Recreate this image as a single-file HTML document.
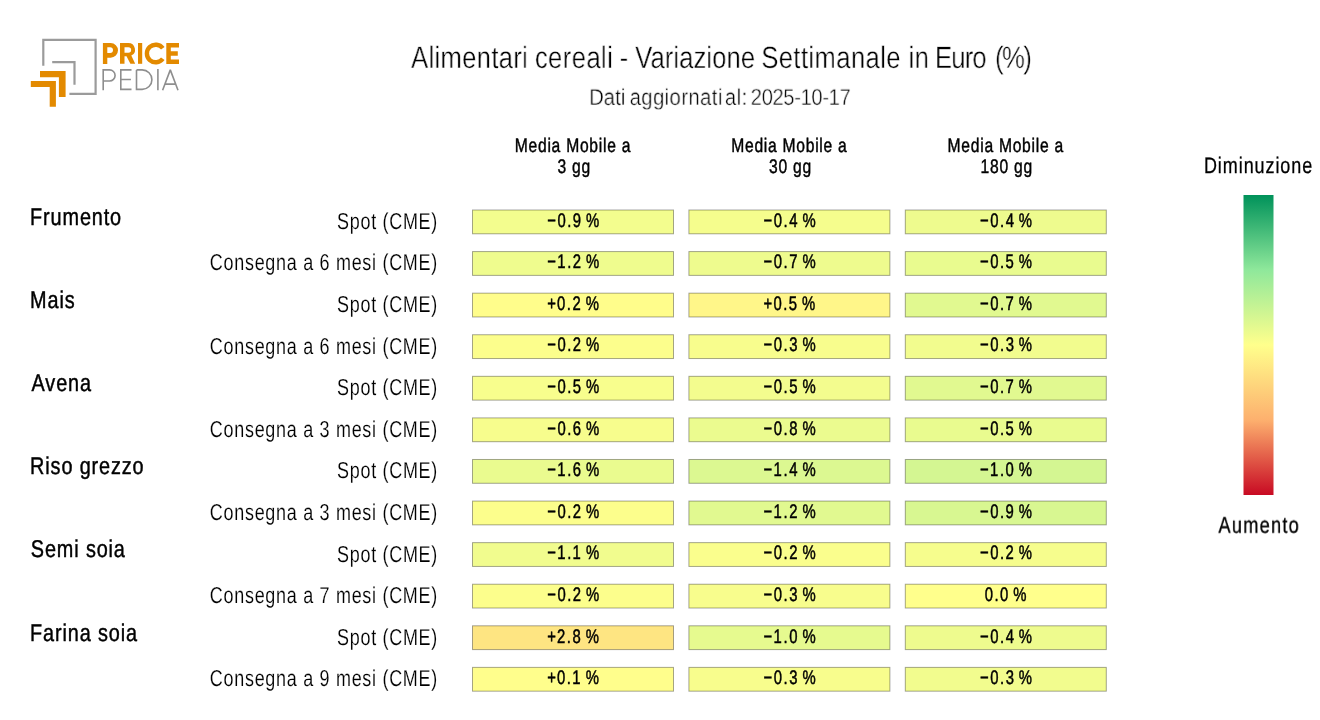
<!DOCTYPE html>
<html><head><meta charset="utf-8"><style>
html,body{margin:0;padding:0;background:#fff;width:1320px;height:720px;overflow:hidden}
svg{display:block;will-change:transform}
text{font-family:"Liberation Sans",sans-serif;white-space:pre;text-rendering:geometricPrecision}
</style></head><body>
<svg width="1320" height="720" viewBox="0 0 1320 720">
<defs><linearGradient id="cb" x1="0" y1="0" x2="0" y2="1"><stop offset="0.0" stop-color="rgb(0, 146, 90)"/><stop offset="0.25" stop-color="rgb(143, 232, 155)"/><stop offset="0.5" stop-color="rgb(255, 255, 140)"/><stop offset="0.75" stop-color="rgb(253, 176, 110)"/><stop offset="1.0" stop-color="rgb(200, 10, 35)"/></linearGradient></defs>
<rect width="1320" height="720" fill="#fff"/>

<g fill="none" stroke="#9b9b9b" stroke-width="2.2">
 <path d="M43.3 65.8 V39.8 H95.6 V93.8 H69.4"/>
 <path d="M52.2 62.1 H74.5 V84.7"/>
</g>
<g fill="#e38a00">
 <path d="M40 71.1 H65.6 V97 H58.9 V77.2 H40 Z"/>
 <path d="M30.8 80.9 H55.9 V106.7 H49.7 V87 H30.8 Z"/>
</g>
<g fill="#e38a00" fill-rule="evenodd">
 <path d="M102.9 43 H110.65 A7.35 7.35 0 0 1 110.65 57.7 H107.3 V63.9 H102.9 Z M107.3 47.2 H110.1 A2.9 2.9 0 0 1 110.1 53 H107.3 Z"/>
 <path d="M120 43 H128.35 A6.65 6.65 0 0 1 131.3 55.6 L135.2 63.8 H130.4 L126.5 56.3 H124.5 V63.8 H120 Z M124.5 47.2 H128.35 A2.8 2.8 0 0 1 128.35 52.8 H124.5 Z"/>
 <path d="M138 43 H142.2 V63.8 H138 Z"/>
 <path d="M166.3 43.1 H179 V47.6 H170.8 V51.3 H177.8 V55.8 H170.8 V59.5 H179 V63.9 H166.3 Z"/>
</g>
<path d="M162.8 48.3 A8.8 8.8 0 1 0 162.8 58.7" fill="none" stroke="#e38a00" stroke-width="4.4"/>
<g fill="none" stroke="#8e8e8e" stroke-width="1.6">
 <path d="M103.2 90.2 V69.9 H109.55 A5.55 5.55 0 0 1 109.55 81 H103.2"/>
 <path d="M131.5 69.9 H120.8 V89.4 H131.5 M120.8 79.5 H130.9"/>
 <path d="M136.5 69.9 V89.4 H142.15 A9.75 9.75 0 0 0 142.15 69.9 H136.5"/>
 <path d="M157.9 69.1 V90.2"/>
 <path d="M162.6 90.2 L170.3 69.9 L178 90.2 M164.8 84.1 H175.8" stroke-linejoin="bevel"/>
</g>

<rect x="1243.5" y="195" width="30" height="300" fill="url(#cb)"/>
<rect x="472.50" y="210.00" width="201.00" height="23.80" fill="#f3fd8e" stroke="rgba(0,0,0,0.35)" stroke-width="1"/><rect x="688.90" y="210.00" width="201.00" height="23.80" fill="#f5fd8d" stroke="rgba(0,0,0,0.35)" stroke-width="1"/><rect x="905.30" y="210.00" width="201.00" height="23.80" fill="#eefb8e" stroke="rgba(0,0,0,0.35)" stroke-width="1"/><rect x="472.50" y="251.58" width="201.00" height="23.80" fill="#effc8e" stroke="rgba(0,0,0,0.35)" stroke-width="1"/><rect x="688.90" y="251.58" width="201.00" height="23.80" fill="#eefb8e" stroke="rgba(0,0,0,0.35)" stroke-width="1"/><rect x="905.30" y="251.58" width="201.00" height="23.80" fill="#e9fb8f" stroke="rgba(0,0,0,0.35)" stroke-width="1"/><rect x="472.50" y="293.16" width="201.00" height="23.80" fill="#fffd8b" stroke="rgba(0,0,0,0.35)" stroke-width="1"/><rect x="688.90" y="293.16" width="201.00" height="23.80" fill="#fff689" stroke="rgba(0,0,0,0.35)" stroke-width="1"/><rect x="905.30" y="293.16" width="201.00" height="23.80" fill="#e1f990" stroke="rgba(0,0,0,0.35)" stroke-width="1"/><rect x="472.50" y="334.74" width="201.00" height="23.80" fill="#fcfe8c" stroke="rgba(0,0,0,0.35)" stroke-width="1"/><rect x="688.90" y="334.74" width="201.00" height="23.80" fill="#f8fd8d" stroke="rgba(0,0,0,0.35)" stroke-width="1"/><rect x="905.30" y="334.74" width="201.00" height="23.80" fill="#f2fc8e" stroke="rgba(0,0,0,0.35)" stroke-width="1"/><rect x="472.50" y="376.32" width="201.00" height="23.80" fill="#f8fe8d" stroke="rgba(0,0,0,0.35)" stroke-width="1"/><rect x="688.90" y="376.32" width="201.00" height="23.80" fill="#f3fc8e" stroke="rgba(0,0,0,0.35)" stroke-width="1"/><rect x="905.30" y="376.32" width="201.00" height="23.80" fill="#e1f990" stroke="rgba(0,0,0,0.35)" stroke-width="1"/><rect x="472.50" y="417.90" width="201.00" height="23.80" fill="#f7fd8d" stroke="rgba(0,0,0,0.35)" stroke-width="1"/><rect x="688.90" y="417.90" width="201.00" height="23.80" fill="#ebfb8f" stroke="rgba(0,0,0,0.35)" stroke-width="1"/><rect x="905.30" y="417.90" width="201.00" height="23.80" fill="#e9fb8f" stroke="rgba(0,0,0,0.35)" stroke-width="1"/><rect x="472.50" y="459.48" width="201.00" height="23.80" fill="#eafb8f" stroke="rgba(0,0,0,0.35)" stroke-width="1"/><rect x="688.90" y="459.48" width="201.00" height="23.80" fill="#dcf891" stroke="rgba(0,0,0,0.35)" stroke-width="1"/><rect x="905.30" y="459.48" width="201.00" height="23.80" fill="#d4f692" stroke="rgba(0,0,0,0.35)" stroke-width="1"/><rect x="472.50" y="501.06" width="201.00" height="23.80" fill="#fcfe8c" stroke="rgba(0,0,0,0.35)" stroke-width="1"/><rect x="688.90" y="501.06" width="201.00" height="23.80" fill="#e1f990" stroke="rgba(0,0,0,0.35)" stroke-width="1"/><rect x="905.30" y="501.06" width="201.00" height="23.80" fill="#d8f791" stroke="rgba(0,0,0,0.35)" stroke-width="1"/><rect x="472.50" y="542.64" width="201.00" height="23.80" fill="#f1fc8e" stroke="rgba(0,0,0,0.35)" stroke-width="1"/><rect x="688.90" y="542.64" width="201.00" height="23.80" fill="#fafe8d" stroke="rgba(0,0,0,0.35)" stroke-width="1"/><rect x="905.30" y="542.64" width="201.00" height="23.80" fill="#f6fd8d" stroke="rgba(0,0,0,0.35)" stroke-width="1"/><rect x="472.50" y="584.22" width="201.00" height="23.80" fill="#fcfe8c" stroke="rgba(0,0,0,0.35)" stroke-width="1"/><rect x="688.90" y="584.22" width="201.00" height="23.80" fill="#f8fd8d" stroke="rgba(0,0,0,0.35)" stroke-width="1"/><rect x="905.30" y="584.22" width="201.00" height="23.80" fill="#ffff8c" stroke="rgba(0,0,0,0.35)" stroke-width="1"/><rect x="472.50" y="625.80" width="201.00" height="23.80" fill="#fee582" stroke="rgba(0,0,0,0.35)" stroke-width="1"/><rect x="688.90" y="625.80" width="201.00" height="23.80" fill="#e6fa8f" stroke="rgba(0,0,0,0.35)" stroke-width="1"/><rect x="905.30" y="625.80" width="201.00" height="23.80" fill="#eefb8e" stroke="rgba(0,0,0,0.35)" stroke-width="1"/><rect x="472.50" y="667.38" width="201.00" height="23.80" fill="#fffe8c" stroke="rgba(0,0,0,0.35)" stroke-width="1"/><rect x="688.90" y="667.38" width="201.00" height="23.80" fill="#f8fd8d" stroke="rgba(0,0,0,0.35)" stroke-width="1"/><rect x="905.30" y="667.38" width="201.00" height="23.80" fill="#f2fc8e" stroke="rgba(0,0,0,0.35)" stroke-width="1"/>
<g style="will-change:transform">
<text transform="translate(0.00 68.00) scale(0.8300 1)" font-size="30.87" fill="#000" stroke="#fff" stroke-width="0.45"><tspan x="495.15" letter-spacing="0.402">Alimentari </tspan><tspan x="644.43" letter-spacing="0.489">cereali </tspan><tspan x="746.40" letter-spacing="0.000">- </tspan><tspan x="765.27" letter-spacing="0.099">Variazione </tspan><tspan x="917.17" letter-spacing="0.485">Settimanale </tspan><tspan x="1094.74" letter-spacing="0.417">in </tspan><tspan x="1126.45" letter-spacing="-0.999">Euro </tspan><tspan x="1198.63" letter-spacing="-1.727">(%)</tspan></text><text transform="translate(0.00 104.85) scale(0.8800 1)" font-size="23.04" fill="#000" stroke="#fff" stroke-width="0.45"><tspan x="669.41" letter-spacing="0.055">Dati </tspan><tspan x="715.44" letter-spacing="0.468">aggiornati </tspan><tspan x="823.74" letter-spacing="0.592">al: </tspan><tspan x="853.05" letter-spacing="-0.454">2025-10-17</tspan></text><text transform="translate(514.80 151.90) scale(0.8000 1)" font-size="19.57" letter-spacing="0.907" fill="#000" stroke="#000" stroke-width="0.45">Media Mobile a</text><text transform="translate(557.40 172.50) scale(0.8000 1)" font-size="19.57" letter-spacing="0.974" fill="#000" stroke="#000" stroke-width="0.45">3 gg</text><text transform="translate(731.20 151.90) scale(0.8000 1)" font-size="19.57" letter-spacing="0.907" fill="#000" stroke="#000" stroke-width="0.45">Media Mobile a</text><text transform="translate(769.03 172.50) scale(0.8000 1)" font-size="19.57" letter-spacing="0.974" fill="#000" stroke="#000" stroke-width="0.45">30 gg</text><text transform="translate(947.60 151.90) scale(0.8000 1)" font-size="19.57" letter-spacing="0.907" fill="#000" stroke="#000" stroke-width="0.45">Media Mobile a</text><text transform="translate(980.43 172.50) scale(0.8000 1)" font-size="19.57" letter-spacing="0.974" fill="#000" stroke="#000" stroke-width="0.45">180 gg</text><text transform="translate(30.11 224.80) scale(0.8200 1)" font-size="24.20" letter-spacing="1.067" fill="#000" stroke="#000" stroke-width="0.45">Frumento</text><text transform="translate(30.11 307.96) scale(0.8200 1)" font-size="24.20" letter-spacing="1.067" fill="#000" stroke="#000" stroke-width="0.45">Mais</text><text transform="translate(31.60 391.12) scale(0.8200 1)" font-size="24.20" letter-spacing="1.067" fill="#000" stroke="#000" stroke-width="0.45">Avena</text><text transform="translate(30.11 474.28) scale(0.8200 1)" font-size="24.20" letter-spacing="1.067" fill="#000" stroke="#000" stroke-width="0.45">Riso grezzo</text><text transform="translate(30.81 557.44) scale(0.8200 1)" font-size="24.20" letter-spacing="1.067" fill="#000" stroke="#000" stroke-width="0.45">Semi soia</text><text transform="translate(30.11 640.60) scale(0.8200 1)" font-size="24.20" letter-spacing="1.067" fill="#000" stroke="#000" stroke-width="0.45">Farina soia</text><text transform="translate(337.03 228.90) scale(0.7800 1)" font-size="23.04" letter-spacing="0.915" fill="#000" stroke="#fff" stroke-width="0.15">Spot (CME)</text><text transform="translate(209.85 270.48) scale(0.7800 1)" font-size="23.04" letter-spacing="0.915" fill="#000" stroke="#fff" stroke-width="0.15">Consegna a 6 mesi (CME)</text><text transform="translate(337.03 312.06) scale(0.7800 1)" font-size="23.04" letter-spacing="0.915" fill="#000" stroke="#fff" stroke-width="0.15">Spot (CME)</text><text transform="translate(209.85 353.64) scale(0.7800 1)" font-size="23.04" letter-spacing="0.915" fill="#000" stroke="#fff" stroke-width="0.15">Consegna a 6 mesi (CME)</text><text transform="translate(337.03 395.22) scale(0.7800 1)" font-size="23.04" letter-spacing="0.915" fill="#000" stroke="#fff" stroke-width="0.15">Spot (CME)</text><text transform="translate(209.85 436.80) scale(0.7800 1)" font-size="23.04" letter-spacing="0.915" fill="#000" stroke="#fff" stroke-width="0.15">Consegna a 3 mesi (CME)</text><text transform="translate(337.03 478.38) scale(0.7800 1)" font-size="23.04" letter-spacing="0.915" fill="#000" stroke="#fff" stroke-width="0.15">Spot (CME)</text><text transform="translate(209.85 519.96) scale(0.7800 1)" font-size="23.04" letter-spacing="0.915" fill="#000" stroke="#fff" stroke-width="0.15">Consegna a 3 mesi (CME)</text><text transform="translate(337.03 561.54) scale(0.7800 1)" font-size="23.04" letter-spacing="0.915" fill="#000" stroke="#fff" stroke-width="0.15">Spot (CME)</text><text transform="translate(209.85 603.12) scale(0.7800 1)" font-size="23.04" letter-spacing="0.915" fill="#000" stroke="#fff" stroke-width="0.15">Consegna a 7 mesi (CME)</text><text transform="translate(337.03 644.70) scale(0.7800 1)" font-size="23.04" letter-spacing="0.915" fill="#000" stroke="#fff" stroke-width="0.15">Spot (CME)</text><text transform="translate(209.85 686.28) scale(0.7800 1)" font-size="23.04" letter-spacing="0.915" fill="#000" stroke="#fff" stroke-width="0.15">Consegna a 9 mesi (CME)</text><text transform="translate(1203.96 172.90) scale(0.8000 1)" font-size="22.46" letter-spacing="1.177" fill="#000" stroke="#000" stroke-width="0.3">Diminuzione</text><text transform="translate(1218.41 532.70) scale(0.8000 1)" font-size="22.75" letter-spacing="1.564" fill="#000" stroke="#000" stroke-width="0.3">Aumento</text><text transform="translate(0.00 226.70) scale(0.7600 1)" x="720.00 733.40 746.32 753.72 765.57 771.10" font-size="19.57" fill="#000" stroke="#000" stroke-width="0.5">−0.9 %</text><text transform="translate(0.00 226.70) scale(0.7600 1)" x="1004.74 1018.14 1031.06 1038.55 1050.31 1055.83" font-size="19.57" fill="#000" stroke="#000" stroke-width="0.5">−0.4 %</text><text transform="translate(0.00 226.70) scale(0.7600 1)" x="1289.47 1302.88 1315.80 1323.29 1335.05 1340.57" font-size="19.57" fill="#000" stroke="#000" stroke-width="0.5">−0.4 %</text><text transform="translate(0.00 268.28) scale(0.7600 1)" x="720.00 733.16 746.32 753.72 765.57 771.10" font-size="19.57" fill="#000" stroke="#000" stroke-width="0.5">−1.2 %</text><text transform="translate(0.00 268.28) scale(0.7600 1)" x="1004.74 1018.14 1031.06 1038.45 1050.31 1055.83" font-size="19.57" fill="#000" stroke="#000" stroke-width="0.5">−0.7 %</text><text transform="translate(0.00 268.28) scale(0.7600 1)" x="1289.47 1302.88 1315.80 1323.19 1335.05 1340.57" font-size="19.57" fill="#000" stroke="#000" stroke-width="0.5">−0.5 %</text><text transform="translate(0.00 309.86) scale(0.7600 1)" x="720.00 732.88 745.80 753.19 765.05 770.57" font-size="19.57" fill="#000" stroke="#000" stroke-width="0.5">+0.2 %</text><text transform="translate(0.00 309.86) scale(0.7600 1)" x="1004.74 1017.61 1030.53 1037.93 1049.78 1055.31" font-size="19.57" fill="#000" stroke="#000" stroke-width="0.5">+0.5 %</text><text transform="translate(0.00 309.86) scale(0.7600 1)" x="1289.47 1302.88 1315.80 1323.19 1335.05 1340.57" font-size="19.57" fill="#000" stroke="#000" stroke-width="0.5">−0.7 %</text><text transform="translate(0.00 351.44) scale(0.7600 1)" x="720.00 733.40 746.32 753.72 765.57 771.10" font-size="19.57" fill="#000" stroke="#000" stroke-width="0.5">−0.2 %</text><text transform="translate(0.00 351.44) scale(0.7600 1)" x="1004.74 1018.14 1031.06 1038.50 1050.31 1055.83" font-size="19.57" fill="#000" stroke="#000" stroke-width="0.5">−0.3 %</text><text transform="translate(0.00 351.44) scale(0.7600 1)" x="1289.47 1302.88 1315.80 1323.24 1335.05 1340.57" font-size="19.57" fill="#000" stroke="#000" stroke-width="0.5">−0.3 %</text><text transform="translate(0.00 393.02) scale(0.7600 1)" x="720.00 733.40 746.32 753.72 765.57 771.10" font-size="19.57" fill="#000" stroke="#000" stroke-width="0.5">−0.5 %</text><text transform="translate(0.00 393.02) scale(0.7600 1)" x="1004.74 1018.14 1031.06 1038.45 1050.31 1055.83" font-size="19.57" fill="#000" stroke="#000" stroke-width="0.5">−0.5 %</text><text transform="translate(0.00 393.02) scale(0.7600 1)" x="1289.47 1302.88 1315.80 1323.19 1335.05 1340.57" font-size="19.57" fill="#000" stroke="#000" stroke-width="0.5">−0.7 %</text><text transform="translate(0.00 434.60) scale(0.7600 1)" x="720.00 733.40 746.32 753.62 765.57 771.10" font-size="19.57" fill="#000" stroke="#000" stroke-width="0.5">−0.6 %</text><text transform="translate(0.00 434.60) scale(0.7600 1)" x="1004.74 1018.14 1031.06 1038.40 1050.31 1055.83" font-size="19.57" fill="#000" stroke="#000" stroke-width="0.5">−0.8 %</text><text transform="translate(0.00 434.60) scale(0.7600 1)" x="1289.47 1302.88 1315.80 1323.19 1335.05 1340.57" font-size="19.57" fill="#000" stroke="#000" stroke-width="0.5">−0.5 %</text><text transform="translate(0.00 476.18) scale(0.7600 1)" x="720.00 733.16 746.32 753.62 765.57 771.10" font-size="19.57" fill="#000" stroke="#000" stroke-width="0.5">−1.6 %</text><text transform="translate(0.00 476.18) scale(0.7600 1)" x="1004.74 1017.90 1031.06 1038.55 1050.31 1055.83" font-size="19.57" fill="#000" stroke="#000" stroke-width="0.5">−1.4 %</text><text transform="translate(0.00 476.18) scale(0.7600 1)" x="1289.47 1302.63 1315.80 1323.14 1335.05 1340.57" font-size="19.57" fill="#000" stroke="#000" stroke-width="0.5">−1.0 %</text><text transform="translate(0.00 517.76) scale(0.7600 1)" x="720.00 733.40 746.32 753.72 765.57 771.10" font-size="19.57" fill="#000" stroke="#000" stroke-width="0.5">−0.2 %</text><text transform="translate(0.00 517.76) scale(0.7600 1)" x="1004.74 1017.90 1031.06 1038.45 1050.31 1055.83" font-size="19.57" fill="#000" stroke="#000" stroke-width="0.5">−1.2 %</text><text transform="translate(0.00 517.76) scale(0.7600 1)" x="1289.47 1302.88 1315.80 1323.19 1335.05 1340.57" font-size="19.57" fill="#000" stroke="#000" stroke-width="0.5">−0.9 %</text><text transform="translate(0.00 559.34) scale(0.7600 1)" x="720.00 733.16 746.32 753.42 765.57 771.10" font-size="19.57" fill="#000" stroke="#000" stroke-width="0.5">−1.1 %</text><text transform="translate(0.00 559.34) scale(0.7600 1)" x="1004.74 1018.14 1031.06 1038.45 1050.31 1055.83" font-size="19.57" fill="#000" stroke="#000" stroke-width="0.5">−0.2 %</text><text transform="translate(0.00 559.34) scale(0.7600 1)" x="1289.47 1302.88 1315.80 1323.19 1335.05 1340.57" font-size="19.57" fill="#000" stroke="#000" stroke-width="0.5">−0.2 %</text><text transform="translate(0.00 600.92) scale(0.7600 1)" x="720.00 733.40 746.32 753.72 765.57 771.10" font-size="19.57" fill="#000" stroke="#000" stroke-width="0.5">−0.2 %</text><text transform="translate(0.00 600.92) scale(0.7600 1)" x="1004.74 1018.14 1031.06 1038.50 1050.31 1055.83" font-size="19.57" fill="#000" stroke="#000" stroke-width="0.5">−0.3 %</text><text transform="translate(0.00 600.92) scale(0.7600 1)" x="1295.64 1308.56 1315.90 1327.81 1333.33" font-size="19.57" fill="#000" stroke="#000" stroke-width="0.5">0.0 %</text><text transform="translate(0.00 642.50) scale(0.7600 1)" x="720.00 732.93 745.80 753.14 765.05 770.57" font-size="19.57" fill="#000" stroke="#000" stroke-width="0.5">+2.8 %</text><text transform="translate(0.00 642.50) scale(0.7600 1)" x="1004.74 1017.90 1031.06 1038.40 1050.31 1055.83" font-size="19.57" fill="#000" stroke="#000" stroke-width="0.5">−1.0 %</text><text transform="translate(0.00 642.50) scale(0.7600 1)" x="1289.47 1302.88 1315.80 1323.29 1335.05 1340.57" font-size="19.57" fill="#000" stroke="#000" stroke-width="0.5">−0.4 %</text><text transform="translate(0.00 684.08) scale(0.7600 1)" x="720.00 732.88 745.80 752.90 765.05 770.57" font-size="19.57" fill="#000" stroke="#000" stroke-width="0.5">+0.1 %</text><text transform="translate(0.00 684.08) scale(0.7600 1)" x="1004.74 1018.14 1031.06 1038.50 1050.31 1055.83" font-size="19.57" fill="#000" stroke="#000" stroke-width="0.5">−0.3 %</text><text transform="translate(0.00 684.08) scale(0.7600 1)" x="1289.47 1302.88 1315.80 1323.24 1335.05 1340.57" font-size="19.57" fill="#000" stroke="#000" stroke-width="0.5">−0.3 %</text>
</g>
</svg>
</body></html>
